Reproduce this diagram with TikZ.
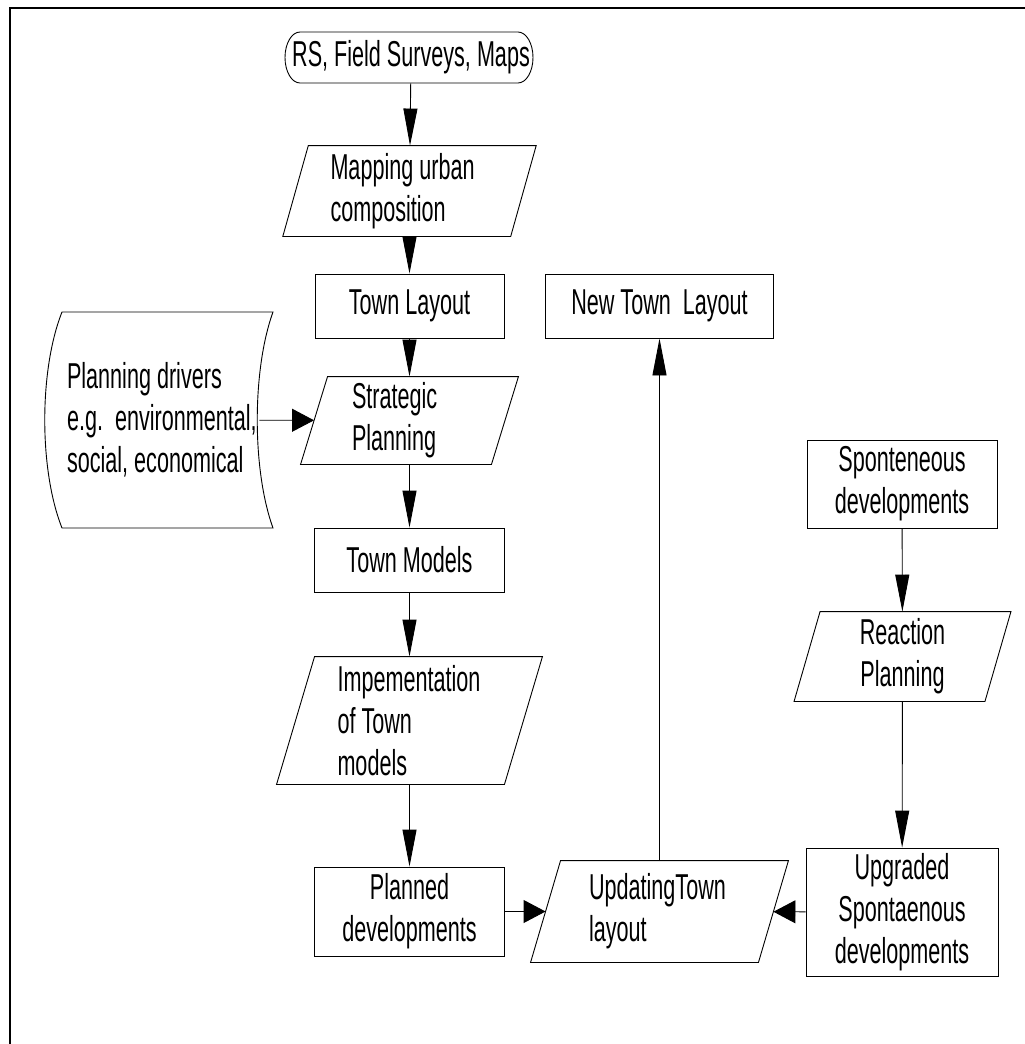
\documentclass[tikz,border=0pt]{standalone}
\usepackage{fontspec}
\setmainfont{Liberation Sans}[FakeStretch=0.6]
\usetikzlibrary{arrows.meta}

% slanted frame round a node (half offset of top/bottom edge)
\newcommand{\slantframe}[2]{%
  \draw ([xshift=#2]#1.north west) -- ([xshift=#2]#1.north east) -- ([xshift=-#2]#1.south east) -- ([xshift=-#2]#1.south west) -- cycle;}

\begin{document}
\begin{tikzpicture}[x=1pt, y=-1pt, line width=0.9pt,
  every node/.style={inner sep=0pt, font=\fontsize{36}{42}\selectfont, align=center},
  box/.style={draw, minimum width=190pt, minimum height=64pt},
  para/.style={minimum width=227pt, minimum height=90pt, align=flush left},
  varr/.style={-{Triangle[length=37pt,width=14pt]}},
  harr/.style={-{Triangle[length=22pt,width=23pt]}}]
  \useasboundingbox (0,0) rectangle (1025,1044);
  \draw[line width=2.2pt] (10,1044) -- (10,8) -- (1025,8);

  \node[minimum width=248pt, minimum height=51pt] (rs) at (411,57.5) {RS, Field Surveys, Maps};
  \node[para, text width=158pt] (map) at (409.5,191) {Mapping urban\\composition};
  \node[box, minimum width=189pt] (lay) at (409.5,306) {Town Layout};
  \node[box, minimum width=228pt] (newlay) at (659.5,306) {New Town~~Layout};
  \node[para, minimum width=190pt, minimum height=87pt, text width=115pt] (strat) at (409.5,420.5) {Strategic\\Planning};
  \node[box] (tm) at (409.5,560) {Town Models};
  \node[para, minimum height=127pt, text width=144pt] (impl) at (409.5,720.5) {Impementation\\of Town\\models};
  \node[box, minimum height=89pt] (pd) at (409.5,911.5) {Planned\\developments};
  \node[para, minimum height=101pt, text width=141pt] (upd) at (659.5,911.5) {UpdatingTown\\layout};
  \node[box, minimum height=88pt] (sd) at (902,484) {Sponteneous\\developments};
  \node[para, minimum width=190pt, minimum height=89pt, align=center] (react) at (902.5,656.5) {Reaction\\Planning};
  \node[box, minimum width=192pt, minimum height=128pt] (upg) at (902,912) {Upgraded\\Spontaenous\\developments};
  \node[text width=192pt, align=flush left] (drivers) at (163,420) {Planning drivers\\e.g.~~environmental,\\social, economical};

  % outlines
  \draw (300,32) -- (518,32) .. controls (526.3,32) and (533,43.4) .. (533,57.5)
        .. controls (533,71.6) and (526.3,83) .. (518,83) -- (300,83)
        .. controls (291.7,83) and (285,71.6) .. (285,57.5)
        .. controls (285,43.4) and (291.7,32) .. (300,32) -- cycle;
  \draw (62,312) -- (273,312) .. controls (252,370) and (252,470) .. (273,528) -- (62,528)
        .. controls (39,470) and (39,370) .. (62,312) -- cycle;
  \slantframe{map}{12.75}
  \slantframe{strat}{13.5}
  \slantframe{impl}{19}
  \slantframe{upd}{15}
  \slantframe{react}{13}

  \draw[varr] (rs) to (map);
  \draw[varr] (map) to (lay);
  \draw[varr] (lay) to (strat);
  \draw[varr] (strat) to (tm);
  \draw[varr] (tm) to (impl);
  \draw[varr] (impl) to (pd);
  \draw[harr] (pd) to (upd);
  \draw[harr] (upg) to (upd);
  \draw[varr] (upd) to (newlay);
  \draw[varr] (sd) to (react);
  \draw[varr] (react) to (upg);
  \draw[harr] (drivers) to (strat);
\end{tikzpicture}
\end{document}
